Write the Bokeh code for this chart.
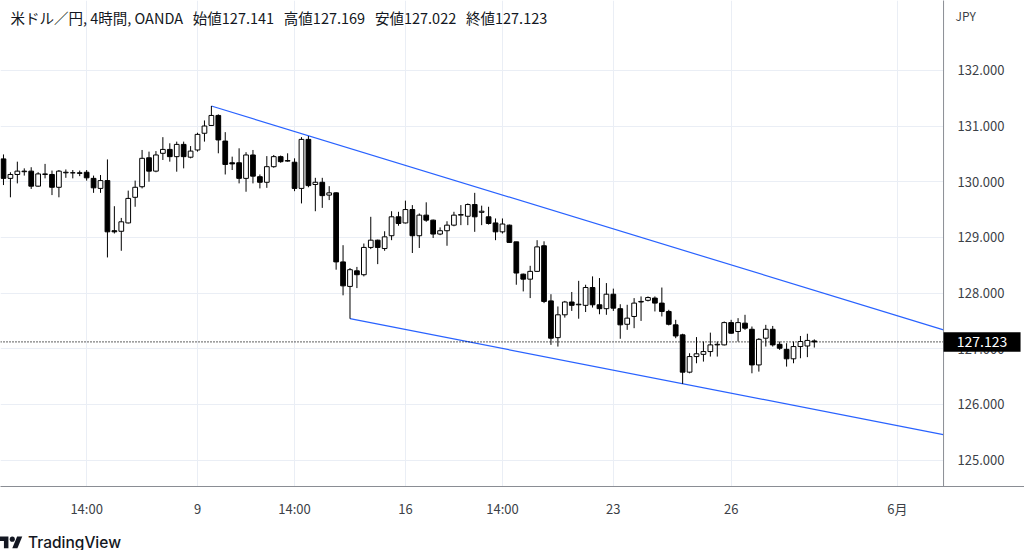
from bokeh.plotting import figure
from bokeh.models import ColumnDataSource, FixedTicker, Label, Div, Range1d
from bokeh.layouts import column
from bokeh.core.properties import value
from bokeh.embed import file_html
from bokeh.resources import INLINE

# ---- data (4-hour bars, index 0 = 9 May 06:00) ----
bar = list(range(-28, 90))
opens = [130.41, 130.06, 130.13, 130.18, 130.19, 129.92, 130.13, 130.13, 129.90, 130.16,
         130.16, 130.16, 130.17, 130.06, 129.88, 130.02, 129.12, 129.11, 129.26, 129.72,
         129.91, 130.43, 130.19, 130.51, 130.58, 130.45, 130.67, 130.44,
         130.57, 130.87, 131.01, 131.19, 130.73, 130.34, 130.34, 130.06, 130.48, 130.09,
         129.99, 130.27, 130.45, 130.37, 130.35, 129.88, 130.76, 129.95, 129.99, 129.76,
         129.80, 128.56, 128.12, 128.40, 128.33, 128.82, 128.95, 128.80, 129.03, 129.37,
         129.26, 129.50, 129.03, 129.40, 129.31, 129.06, 129.12, 129.22, 129.40, 129.38,
         129.59, 129.45, 129.37, 129.26, 129.10, 129.22, 128.92, 128.34, 128.25, 128.39,
         128.85, 127.86, 127.20, 127.61, 127.84, 127.79, 127.78, 128.10, 127.79, 127.72,
         127.98, 127.72, 127.44, 127.58, 127.84, 127.87, 127.91, 127.82, 127.67, 127.43,
         127.25, 126.58, 126.86, 126.90, 126.95, 127.07, 127.07, 127.47, 127.31, 127.46,
         127.35, 126.71, 127.19, 127.35, 127.08, 126.99, 126.82, 127.04, 127.05, 127.141]
highs = [130.49, 130.17, 130.36, 130.24, 130.26, 130.17, 130.32, 130.20, 130.21, 130.22,
         130.21, 130.20, 130.21, 130.11, 130.12, 130.40, 129.56, 129.35, 129.84, 130.02,
         130.57, 130.54, 130.55, 130.80, 130.69, 130.72, 130.72, 130.64,
         130.88, 131.10, 131.36, 131.21, 130.89, 130.45, 130.60, 130.53, 130.57, 130.13,
         130.46, 130.48, 130.47, 130.51, 130.42, 130.80, 130.82, 130.07, 130.07, 129.92,
         129.81, 128.86, 128.45, 128.47, 128.89, 129.37, 128.96, 129.11, 129.47, 129.46,
         129.66, 129.58, 129.43, 129.63, 129.32, 129.18, 129.29, 129.46, 129.58, 129.61,
         129.80, 129.57, 129.55, 129.34, 129.34, 129.23, 128.92, 128.35, 128.49, 128.95,
         128.93, 127.98, 127.76, 127.86, 128.02, 128.22, 128.15, 128.30, 128.27, 128.18,
         128.08, 127.80, 127.79, 127.91, 127.94, 127.94, 127.94, 128.10, 127.70, 127.52,
         127.27, 126.92, 127.21, 127.13, 127.29, 127.13, 127.49, 127.52, 127.55, 127.61,
         127.40, 127.19, 127.43, 127.41, 127.13, 127.10, 127.13, 127.23, 127.27, 127.169]
lows = [129.94, 129.72, 129.97, 130.11, 129.87, 129.91, 130.06, 129.76, 129.72, 130.07,
        130.06, 130.10, 130.02, 129.80, 129.80, 128.64, 129.07, 128.76, 129.25, 129.55,
        129.88, 130.00, 130.17, 130.39, 130.36, 130.18, 130.24, 130.42,
        130.54, 130.72, 131.00, 130.51, 130.13, 130.21, 129.97, 129.82, 129.97, 129.88,
        129.89, 130.25, 130.34, 130.36, 129.83, 129.61, 129.90, 129.47, 129.53, 129.67,
        128.42, 127.96, 127.54, 128.09, 128.30, 128.79, 128.52, 128.76, 128.95, 129.21,
        129.25, 128.72, 128.81, 129.28, 128.99, 129.04, 128.85, 129.20, 129.22, 129.22,
        129.10, 129.22, 129.23, 128.95, 129.07, 128.90, 128.15, 128.03, 127.91, 128.38,
        127.82, 127.07, 127.04, 127.56, 127.68, 127.54, 127.66, 127.74, 127.62, 127.61,
        127.68, 127.18, 127.34, 127.37, 127.50, 127.85, 127.67, 127.58, 127.42, 127.19,
        126.37, 126.56, 126.74, 126.77, 126.86, 126.86, 127.06, 127.27, 127.13, 127.34,
        126.56, 126.59, 127.04, 127.04, 126.98, 126.68, 126.74, 126.83, 126.85, 127.022]
closes = [130.06, 130.13, 130.19, 130.19, 129.92, 130.14, 130.14, 129.90, 130.19, 130.17,
          130.16, 130.15, 130.07, 129.89, 130.02, 129.10, 129.10, 129.28, 129.70, 129.90,
          130.42, 130.19, 130.48, 130.58, 130.45, 130.67, 130.45, 130.55,
          130.85, 131.00, 131.19, 130.75, 130.31, 130.32, 130.06, 130.48, 130.10, 129.99,
          130.27, 130.45, 130.36, 130.38, 129.88, 130.76, 129.93, 129.99, 129.75, 129.80,
          128.56, 128.13, 128.42, 128.33, 128.82, 128.95, 128.82, 129.01, 129.37, 129.25,
          129.50, 129.03, 129.40, 129.31, 129.06, 129.12, 129.22, 129.40, 129.41, 129.59,
          129.37, 129.47, 129.25, 129.10, 129.24, 128.91, 128.36, 128.25, 128.39, 128.83,
          127.85, 127.19, 127.61, 127.84, 127.78, 127.80, 128.10, 127.79, 127.72, 127.98,
          127.73, 127.43, 127.55, 127.82, 127.85, 127.92, 127.82, 127.67, 127.44, 127.23,
          126.58, 126.86, 126.91, 126.95, 127.07, 127.08, 127.47, 127.28, 127.47, 127.37,
          126.71, 127.17, 127.35, 127.07, 127.01, 126.82, 127.04, 127.13, 127.15, 127.123]

trend_upper_x = [2, 110]
trend_upper_y = [131.36, 127.25]
trend_lower_x = [22, 110]
trend_lower_y = [127.54, 125.40]

last_price = 127.123
price_ticks = [125, 126, 127, 128, 129, 130, 131, 132]
price_labels = ["125.000", "126.000", "127.000", "128.000", "129.000", "130.000", "131.000", "132.000"]
time_ticks = [-16, 0, 14, 30, 44, 60, 77, 101]
time_labels = ["14:00", "9", "14:00", "16", "14:00", "23", "26", "6月"]
NB = "\u00a0"
GAP = NB * 3
header = ("米ドル／円, 4時間, OANDA" + GAP + "始値127.141" + GAP + "高値127.169"
          + GAP + "安値127.022" + GAP + "終値127.123")

FONT = "Noto Sans CJK JP"
TXT = "#131722"
AX_TXT = "#3c3f47"

# layout constants (data units): price scale begins where the chart pane ends
X_LEFT, X_PANE, X_RIGHT = -28.43, 107.65, 119.33
Y_BOT, Y_TOP = 124.527, 133.254

up = [c >= o for o, c in zip(opens, closes)]
src = ColumnDataSource(dict(
    x=bar, o=opens, h=highs, l=lows, c=closes,
    top=[max(o, c) for o, c in zip(opens, closes)],
    bot=[min(o, c) for o, c in zip(opens, closes)],
    fill=["#ffffff" if u else "#000000" for u in up],
))

p = figure(width=1024, height=520, x_range=Range1d(X_LEFT, X_RIGHT), y_range=Range1d(Y_BOT, Y_TOP),
           output_backend="svg", toolbar_location=None, y_axis_location=None,
           min_border_left=0, min_border_top=0, min_border_right=0, min_border_bottom=33)
p.outline_line_color = None
p.background_fill_color = "white"
p.border_fill_color = "white"

# grid
p.xgrid.ticker = FixedTicker(ticks=time_ticks)
p.ygrid.ticker = FixedTicker(ticks=price_ticks)
p.xgrid.grid_line_color = "#eaeef5"
p.ygrid.grid_line_color = "#eaeef5"

# time axis
p.xaxis.ticker = FixedTicker(ticks=time_ticks)
p.xaxis.major_label_overrides = {t: s for t, s in zip(time_ticks, time_labels)}
p.xaxis.axis_line_color = "#8a8d94"
p.xaxis.major_tick_line_color = None
p.xaxis.minor_tick_line_color = None
p.xaxis.major_label_text_font = FONT
p.xaxis.major_label_text_font_size = "13px"
p.xaxis.major_label_text_color = AX_TXT
p.xaxis.major_label_standoff = 6

# trend lines
p.line(trend_upper_x, trend_upper_y, line_color="#2962ff", line_width=1.2)
p.line(trend_lower_x, trend_lower_y, line_color="#2962ff", line_width=1.2)

# last price dotted line
p.segment(x0=[X_LEFT], y0=[last_price], x1=[X_PANE], y1=[last_price], line_color="black",
          line_dash="1 2", line_width=1.2)

# candles
p.segment(x0="x", y0="h", x1="x", y1="l", source=src, line_color="black", line_width=1)
p.vbar(x="x", top="top", bottom="bot", width=0.68, source=src, fill_color="fill",
       line_color="black", line_width=1)

# price scale pane (covers grid on the right)
p.quad(left=[X_PANE], right=[X_RIGHT + 5], bottom=[Y_BOT - 5], top=[Y_TOP + 5],
       fill_color="white", line_color=None)
p.segment(x0=[X_PANE], y0=[Y_BOT - 5], x1=[X_PANE], y1=[Y_TOP + 5], line_color="#8a8d94", line_width=1)

# price scale labels
p.text(x=[109.67] * len(price_ticks), y=price_ticks, text=price_labels, text_font=value(FONT),
       text_font_size="13px", text_color=AX_TXT, text_baseline="middle", text_align="left")
p.text(x=[109.38], y=[132.985], text=["JPY"], text_font=value(FONT), text_font_size="12px",
       text_color=AX_TXT, text_baseline="middle", text_align="left")

# last price box
p.quad(left=[X_PANE], right=[118.76], bottom=[last_price - 0.175], top=[last_price + 0.175],
       fill_color="black", line_color=None)
p.text(x=[113.2], y=[last_price], text=[f"{last_price:.3f}"], text_font=value(FONT),
       text_font_size="14px", text_color="white", text_baseline="middle", text_align="center")

# header
p.add_layout(Label(x=-27.0, y=132.95, text=header, text_font=FONT, text_font_size="14.5px",
                   text_color=TXT, text_baseline="middle", text_align="left"))

logo = Div(width=1024, height=30, text=(
    '<div style="display:flex;align-items:center;height:30px;margin-top:3px;margin-left:-7px;'
    'font-family:Inter, sans-serif;font-size:15.5px;font-weight:500;color:#131722">'
    '<svg width="26" height="18" viewBox="0 0 36 28" style="margin-right:4px">'
    '<path d="M14 22H7V11H0V4h14v18z" fill="#131722"/>'
    '<circle cx="20" cy="8" r="4" fill="#131722"/>'
    '<path d="M28 22h-8l7.5-18h8L28 22z" fill="#131722"/></svg>'
    'TradingView</div>'))

layout = column(p, logo, spacing=0)
open("out.html", "w").write(file_html(layout, INLINE))
